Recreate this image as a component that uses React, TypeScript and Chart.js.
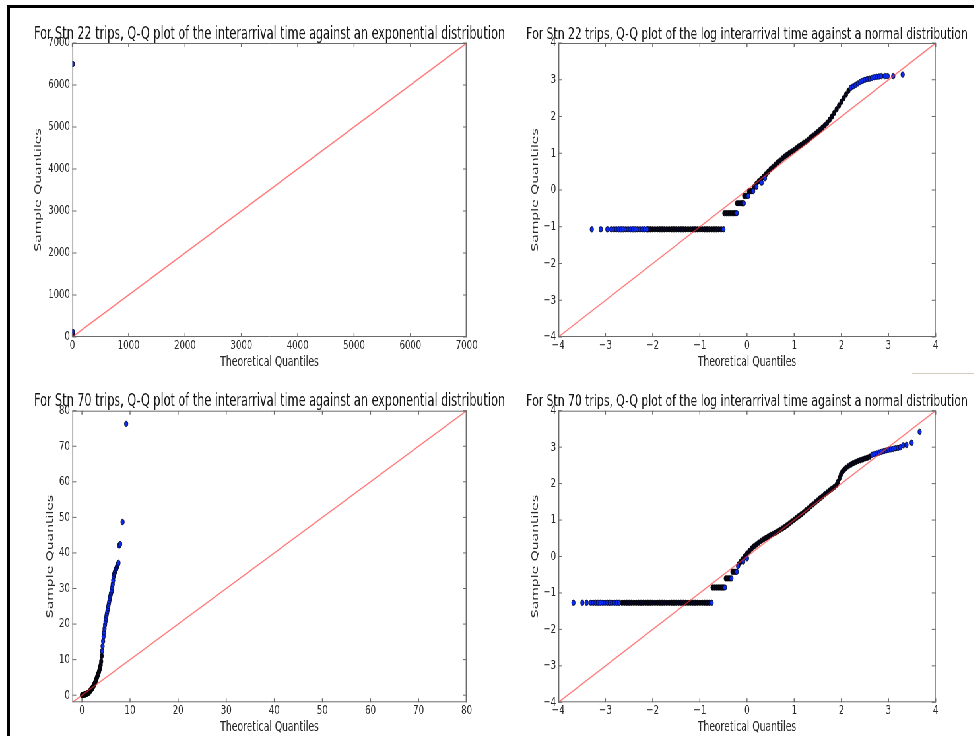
import React, { useEffect, useRef } from 'react';
import { Chart, registerables } from 'chart.js';

Chart.register(...registerables);

// The reference figure is squeezed horizontally; everything is drawn wide and scaled by S.
const S = 0.66;

// ---------------- data ----------------
// Stn 22, interarrival time vs exponential
const s22ExpTicks = [0, 1000, 2000, 3000, 4000, 5000, 6000, 7000];
const s22ExpX = [0, 1, 2, 3, 4, 5, 6, 7, 9];
const s22ExpY = [0, 10, 25, 45, 65, 85, 105, 125, 6500];

// Stn 70, interarrival time vs exponential
const s70ExpTicks = [0, 10, 20, 30, 40, 50, 60, 70, 80];
const s70ExpDenseX = [0, 0.1, 0.2, 0.3, 0.4, 0.5, 0.6, 0.7, 0.8, 0.9, 1.0, 1.1, 1.2, 1.3, 1.4, 1.5, 1.6, 1.7, 1.8, 1.9, 2.0, 2.1, 2.2, 2.3, 2.4, 2.5, 2.6, 2.7, 2.8, 2.9, 3.0, 3.1, 3.2, 3.3, 3.4, 3.5, 3.6, 3.7, 3.8, 3.9, 4.0, 4.1];
const s70ExpDenseY = [0, 0, 0.05, 0.1, 0.1, 0.15, 0.2, 0.25, 0.3, 0.35, 0.45, 0.5, 0.55, 0.6, 0.7, 0.85, 1.0, 1.2, 1.4, 1.6, 1.75, 1.9, 2.1, 2.35, 2.6, 2.85, 3.15, 3.45, 3.8, 4.15, 4.5, 4.9, 5.3, 5.7, 6.0, 6.4, 6.9, 7.4, 7.9, 8.5, 9.5, 11.0];
const s70ExpBlueX = [4.2, 4.3, 4.4, 4.5, 4.6, 4.7, 4.8, 4.9, 5.0, 5.1, 5.2, 5.3, 5.4, 5.5, 5.6, 5.7, 5.8, 5.9, 6.0, 6.1, 6.2, 6.3, 6.4, 6.5, 6.6, 6.7, 6.8, 6.9, 7.0, 7.1, 7.2, 7.3, 7.4, 7.5, 7.6, 7.75, 7.95, 8.44, 9.2];
const s70ExpBlueY = [12.4, 13.8, 15.2, 16.5, 17.6, 18.7, 19.8, 20.7, 21.5, 22.3, 23.0, 23.7, 24.4, 25.1, 25.8, 26.5, 27.2, 27.8, 28.4, 28.9, 29.4, 30.3, 31.2, 32.3, 33.4, 34.0, 34.4, 34.8, 35.1, 35.5, 35.8, 36.2, 36.6, 36.9, 37.2, 42.1, 42.5, 48.7, 76.3];

// log plots share the same ticks
const logTicks = [-4, -3, -2, -1, 0, 1, 2, 3, 4];

// Stn 22, log interarrival time vs normal: flat steps (level, dense x, blue end x)
const s22StepLevels = [-1.07, -0.63, -0.36, -0.16, -0.03];
const s22StepDenseX = [
  [-2.10, -2.05, -2.00, -1.95, -1.90, -1.85, -1.80, -1.75, -1.70, -1.65, -1.60, -1.55, -1.50, -1.45, -1.40, -1.35, -1.30, -1.25, -1.20, -1.15, -1.10, -1.05, -1.00, -0.95, -0.90, -0.85, -0.80, -0.75, -0.70, -0.65, -0.60, -0.55],
  [-0.48, -0.44, -0.40, -0.36, -0.32, -0.28, -0.25],
  [-0.21, -0.17, -0.13, -0.10],
  [-0.06, -0.03, 0.00],
  [0.04, 0.07, 0.10],
];
const s22StepBlueX = [
  [-3.29, -3.10, -2.96, -2.88, -2.82, -2.77, -2.72, -2.67, -2.62, -2.57, -2.52, -2.47, -2.42, -2.37, -2.32, -2.27, -2.22, -2.17, -2.12, -0.50],
  [-0.22],
  [-0.07],
  [0.025],
  [0.13],
];
const s22CurveDenseX = [0.15, 0.20, 0.25, 0.30, 0.35, 0.40, 0.45, 0.50, 0.55, 0.60, 0.65, 0.70, 0.75, 0.80, 0.85, 0.90, 0.95, 1.00, 1.05, 1.10, 1.15, 1.20, 1.25, 1.30, 1.35, 1.40, 1.45, 1.50, 1.55, 1.60, 1.65, 1.70, 1.75, 1.80, 1.85, 1.90, 1.95, 2.00, 2.05, 2.10, 2.15];
const s22CurveDenseY = [0.08, 0.17, 0.24, 0.30, 0.36, 0.43, 0.50, 0.57, 0.63, 0.69, 0.75, 0.80, 0.86, 0.91, 0.96, 1.01, 1.05, 1.09, 1.14, 1.19, 1.23, 1.28, 1.32, 1.37, 1.43, 1.48, 1.53, 1.58, 1.64, 1.70, 1.76, 1.83, 1.91, 2.00, 2.10, 2.20, 2.30, 2.40, 2.50, 2.60, 2.70];
const s22CurveBlueX = [0.20, 0.31, 0.38, 2.20, 2.25, 2.30, 2.35, 2.40, 2.45, 2.50, 2.55, 2.60, 2.65, 2.70, 2.75, 2.80, 2.85, 2.92, 2.98, 3.10, 3.30];
const s22CurveBlueY = [0.09, 0.20, 0.32, 2.78, 2.82, 2.86, 2.90, 2.94, 2.97, 3.00, 3.02, 3.03, 3.05, 3.07, 3.08, 3.09, 3.10, 3.10, 3.10, 3.10, 3.14];

// Stn 70, log interarrival time vs normal
const s70StepLevels = [-1.27, -0.85, -0.60, -0.42];
const s70StepDenseX = [
  [-2.65, -2.60, -2.55, -2.50, -2.45, -2.40, -2.35, -2.30, -2.25, -2.20, -2.15, -2.10, -2.05, -2.00, -1.95, -1.90, -1.85, -1.80, -1.75, -1.70, -1.65, -1.60, -1.55, -1.50, -1.45, -1.40, -1.35, -1.30, -1.25, -1.20, -1.15, -1.10, -1.05, -1.00, -0.95, -0.90, -0.85, -0.80],
  [-0.73, -0.69, -0.65, -0.61, -0.57, -0.53, -0.50],
  [-0.45, -0.42, -0.39, -0.36],
  [-0.31, -0.28, -0.25],
];
const s70StepBlueX = [
  [-3.68, -3.49, -3.40, -3.31, -3.26, -3.21, -3.16, -3.11, -3.06, -3.01, -2.96, -2.91, -2.86, -2.81, -2.76, -2.71, -0.75],
  [-0.47],
  [-0.33],
  [-0.22],
];
const s70CurveDenseX = [-0.18, -0.14, -0.10, -0.05, 0.00, 0.05, 0.10, 0.15, 0.20, 0.25, 0.30, 0.35, 0.40, 0.45, 0.50, 0.55, 0.60, 0.65, 0.70, 0.75, 0.80, 0.85, 0.90, 0.95, 1.00, 1.05, 1.10, 1.15, 1.20, 1.25, 1.30, 1.35, 1.40, 1.45, 1.50, 1.55, 1.60, 1.65, 1.70, 1.75, 1.80, 1.85, 1.90, 1.93, 1.96, 1.99, 2.02, 2.06, 2.10, 2.15, 2.20, 2.25, 2.30, 2.35, 2.40, 2.45, 2.50, 2.55, 2.60];
const s70CurveDenseY = [-0.22, -0.15, -0.08, 0.00, 0.08, 0.15, 0.22, 0.28, 0.33, 0.38, 0.43, 0.47, 0.51, 0.55, 0.59, 0.62, 0.65, 0.69, 0.73, 0.77, 0.81, 0.86, 0.91, 0.96, 1.01, 1.06, 1.11, 1.16, 1.21, 1.27, 1.32, 1.38, 1.43, 1.49, 1.54, 1.60, 1.65, 1.71, 1.76, 1.81, 1.86, 1.91, 1.97, 2.05, 2.15, 2.25, 2.32, 2.38, 2.43, 2.48, 2.52, 2.56, 2.59, 2.62, 2.64, 2.66, 2.69, 2.71, 2.74];
const s70CurveBlueX = [-0.19, -0.08, 0.00, 2.65, 2.70, 2.75, 2.80, 2.85, 2.90, 2.95, 3.00, 3.05, 3.10, 3.15, 3.20, 3.25, 3.31, 3.38, 3.49, 3.66];
const s70CurveBlueY = [-0.26, -0.14, -0.05, 2.79, 2.81, 2.83, 2.85, 2.87, 2.89, 2.91, 2.93, 2.94, 2.95, 2.97, 2.98, 3.00, 3.05, 3.06, 3.12, 3.42];

// ---------------- helpers ----------------
type Pt = { x: number; y: number };
const pairs = (xs: number[], ys: number[]): Pt[] => xs.map((x, i) => ({ x, y: ys[i] }));
const steps = (levels: number[], xs: number[][]): Pt[] =>
  levels.flatMap((lv, i) => xs[i].map((x) => ({ x, y: lv })));

const FONT = '"DejaVu Sans", "Liberation Sans", sans-serif';
const FRAME = '#6a6a6a';
const RED = 'rgba(255, 50, 50, 0.65)';
const BLUE = '#0b2cf2';
const EDGE = '#000014';
const DARK = '#06061c';

const fmt = (v: number) => (v < 0 ? '\u2212' + Math.abs(v) : String(v));

const framePlugin = {
  id: 'qqFrame',
  afterDraw(chart: any, _args: any, opts: any) {
    const { ctx, chartArea: a, scales } = chart;
    ctx.save();
    ctx.strokeStyle = FRAME;
    // inward tick marks on all four sides
    ctx.lineWidth = 1.4;
    for (const v of opts.xTicks as number[]) {
      const px = scales.x.getPixelForValue(v);
      ctx.beginPath();
      ctx.moveTo(px, a.bottom);
      ctx.lineTo(px, a.bottom - 4);
      ctx.moveTo(px, a.top);
      ctx.lineTo(px, a.top + 4);
      ctx.stroke();
    }
    ctx.lineWidth = 1;
    for (const v of opts.yTicks as number[]) {
      const py = scales.y.getPixelForValue(v);
      ctx.beginPath();
      ctx.moveTo(a.left, py);
      ctx.lineTo(a.left + 6, py);
      ctx.moveTo(a.right, py);
      ctx.lineTo(a.right - 6, py);
      ctx.stroke();
    }
    // frame
    ctx.lineWidth = 1;
    ctx.beginPath();
    ctx.moveTo(a.left, a.top + 0.5);
    ctx.lineTo(a.right, a.top + 0.5);
    ctx.moveTo(a.left, a.bottom - 0.5);
    ctx.lineTo(a.right, a.bottom - 0.5);
    ctx.stroke();
    ctx.lineWidth = 1.5;
    ctx.beginPath();
    ctx.moveTo(a.left + 0.75, a.top);
    ctx.lineTo(a.left + 0.75, a.bottom);
    ctx.moveTo(a.right - 0.75, a.top);
    ctx.lineTo(a.right - 0.75, a.bottom);
    ctx.stroke();
    // title
    const cx = (a.left + a.right) / 2;
    ctx.fillStyle = '#161616';
    ctx.font = `${opts.titleSize}px ${FONT}`;
    ctx.textAlign = 'center';
    ctx.textBaseline = 'alphabetic';
    ctx.fillText(opts.title, cx, a.top - 4.5);
    // axis titles
    ctx.fillStyle = '#2a2a2a';
    ctx.font = `14px ${FONT}`;
    ctx.textBaseline = 'middle';
    ctx.fillText('Theoretical Quantiles', cx, a.bottom + 25);
    ctx.translate(a.left + opts.yTitleOffset, (a.top + a.bottom) / 2);
    ctx.rotate(-Math.PI / 2);
    ctx.fillText('Sample Quantiles', 0, 0);
    ctx.restore();
  },
};

type Cfg = {
  left: number; top: number; width: number; height: number;
  plotLeft: number; plotTop: number; plotRight: number; plotBottom: number;
  min: number; max: number; xTicks: number[]; yTicks: number[];
  title: string; titleSize: number; yTitleOffset: number;
  dense: Pt[]; blue: Pt[];
};

function QQChart({ cfg }: { cfg: Cfg }) {
  const ref = useRef<HTMLCanvasElement>(null);
  useEffect(() => {
    const tickFont = { family: FONT, size: 13 };
    const chart = new Chart(ref.current as HTMLCanvasElement, {
      type: 'scatter',
      data: {
        datasets: [
          {
            data: [{ x: cfg.min, y: cfg.min }, { x: cfg.max, y: cfg.max }],
            showLine: true,
            borderColor: RED,
            borderWidth: 1.4,
            pointRadius: 0,
            clip: 0,
          } as any,
          {
            data: cfg.blue,
            pointRadius: 2.7,
            pointBackgroundColor: BLUE,
            pointBorderColor: EDGE,
            pointBorderWidth: 0.8,
            clip: 0,
          } as any,
          {
            data: cfg.dense,
            pointRadius: 2.7,
            pointBackgroundColor: DARK,
            pointBorderColor: '#000',
            pointBorderWidth: 0.8,
            clip: 0,
          } as any,
        ],
      },
      options: {
        animation: false,
        responsive: false,
        devicePixelRatio: 1,
        events: [],
        layout: {
          padding: { left: 0, top: cfg.plotTop, right: cfg.width - cfg.plotRight, bottom: 0 },
        },
        plugins: {
          legend: { display: false },
          tooltip: { enabled: false },
          title: { display: false },
          qqFrame: { title: cfg.title, titleSize: cfg.titleSize, xTicks: cfg.xTicks, yTicks: cfg.yTicks, yTitleOffset: cfg.yTitleOffset },
        } as any,
        scales: {
          x: {
            type: 'linear',
            min: cfg.min,
            max: cfg.max,
            afterBuildTicks: (s: any) => { s.ticks = cfg.xTicks.map((v) => ({ value: v })); },
            afterFit: (s: any) => { s.height = cfg.height - cfg.plotBottom; },
            grid: { display: false, drawTicks: false },
            border: { display: false },
            ticks: { font: tickFont, color: '#2a2a2a', padding: 1, maxRotation: 0, autoSkip: false, callback: (v: any) => fmt(Number(v)) },
          },
          y: {
            type: 'linear',
            min: cfg.min,
            max: cfg.max,
            afterBuildTicks: (s: any) => { s.ticks = cfg.yTicks.map((v) => ({ value: v })); },
            afterFit: (s: any) => { s.width = cfg.plotLeft; },
            grid: { display: false, drawTicks: false },
            border: { display: false },
            ticks: { font: tickFont, color: '#2a2a2a', padding: 3.5, autoSkip: false, callback: (v: any) => fmt(Number(v)) },
          },
        },
      },
      plugins: [framePlugin as any],
    });
    return () => chart.destroy();
  }, [cfg]);
  return (
    <canvas
      ref={ref}
      width={cfg.width}
      height={cfg.height}
      style={{ position: 'absolute', left: cfg.left, top: cfg.top }}
    />
  );
}

// layout in the wide (unsqueezed) coordinate space
const W = (screenX: number) => screenX / S;
const LEFT_PLOT = { l: W(72.3), r: W(466.7) };
const RIGHT_PLOT = { l: W(558.3), r: W(935.7) };

const configs: Cfg[] = [
  {
    left: 0, top: 0, width: 790, height: 370,
    plotLeft: LEFT_PLOT.l, plotRight: LEFT_PLOT.r, plotTop: 43, plotBottom: 337,
    min: 0, max: 7000, xTicks: s22ExpTicks, yTicks: s22ExpTicks,
    title: 'For Stn 22 trips, Q-Q plot of the interarrival time against an exponential distribution',
    titleSize: 17,
    yTitleOffset: W(38.5) - LEFT_PLOT.l,
    dense: [], blue: pairs(s22ExpX, s22ExpY),
  },
  {
    left: 760, top: 0, width: 716, height: 370,
    plotLeft: RIGHT_PLOT.l - 760, plotRight: RIGHT_PLOT.r - 760, plotTop: 43, plotBottom: 337,
    min: -4, max: 4, xTicks: logTicks, yTicks: logTicks,
    title: 'For Stn 22 trips, Q-Q plot of the log interarrival time against a normal distribution',
    titleSize: 16.4,
    yTitleOffset: W(535.5) - RIGHT_PLOT.l,
    dense: [...steps(s22StepLevels, s22StepDenseX), ...pairs(s22CurveDenseX, s22CurveDenseY)],
    blue: [...steps(s22StepLevels, s22StepBlueX), ...pairs(s22CurveBlueX, s22CurveBlueY)],
  },
  {
    left: 0, top: 370, width: 790, height: 366,
    plotLeft: LEFT_PLOT.l, plotRight: LEFT_PLOT.r, plotTop: 40.7, plotBottom: 332.3,
    min: -2, max: 80, xTicks: s70ExpTicks, yTicks: s70ExpTicks,
    title: 'For Stn 70 trips, Q-Q plot of the interarrival time against an exponential distribution',
    titleSize: 17,
    yTitleOffset: W(50.3) - LEFT_PLOT.l,
    dense: pairs(s70ExpDenseX, s70ExpDenseY), blue: pairs(s70ExpBlueX, s70ExpBlueY),
  },
  {
    left: 760, top: 370, width: 716, height: 366,
    plotLeft: RIGHT_PLOT.l - 760, plotRight: RIGHT_PLOT.r - 760, plotTop: 40.7, plotBottom: 332.3,
    min: -4, max: 4, xTicks: logTicks, yTicks: logTicks,
    title: 'For Stn 70 trips, Q-Q plot of the log interarrival time against a normal distribution',
    titleSize: 16.4,
    yTitleOffset: W(535.5) - RIGHT_PLOT.l,
    dense: [...steps(s70StepLevels, s70StepDenseX), ...pairs(s70CurveDenseX, s70CurveDenseY)],
    blue: [...steps(s70StepLevels, s70StepBlueX), ...pairs(s70CurveBlueX, s70CurveBlueY)],
  },
];

export default function App() {
  return (
    <div style={{ position: 'fixed', left: 0, top: 0, width: 974, height: 736, background: '#fff', overflow: 'hidden' }}>
      <div
        style={{
          position: 'absolute', left: 0, top: 0, width: 974 / S, height: 736,
          transform: `scaleX(${S})`, transformOrigin: '0 0',
        }}
      >
        {configs.map((c, i) => (
          <QQChart key={i} cfg={c} />
        ))}
      </div>
      <div
        style={{
          position: 'absolute', left: 7, top: 5, width: 967, height: 731,
          borderTop: '3px solid #000', borderLeft: '3px solid #000', boxSizing: 'border-box',
        }}
      />
      <div style={{ position: 'absolute', left: 912, top: 373, width: 62, height: 1, background: '#d6cdc2' }} />
    </div>
  );
}
